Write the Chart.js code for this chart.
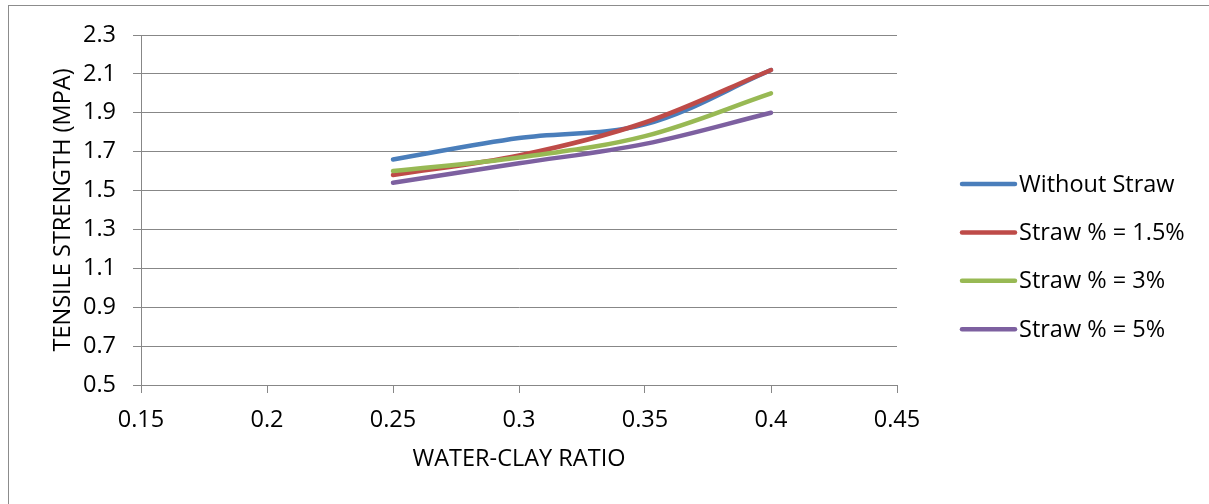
<!DOCTYPE html>
<html>
<head>
<meta charset="utf-8">
<script src="https://cdn.jsdelivr.net/npm/chart.js@4/dist/chart.umd.min.js"></script>
<style>
  body { margin: 0; background: #fff; }
  #wrap { position: relative; width: 1209px; height: 504px; overflow: hidden; }
  #frame { position: absolute; left: 8px; top: 5px; width: 1300px; height: 600px; border: 1px solid #8c8c8c; box-sizing: border-box; }
  canvas { position: absolute; left: 0; top: 0; }
</style>
</head>
<body>
<div id="wrap">
  <div id="frame"></div>
  <canvas id="chart" width="1209" height="504"></canvas>
</div>
<script>
// data
const ratios = [0.25, 0.3, 0.35, 0.4];
const withoutStraw = [1.66, 1.77, 1.84, 2.12];
const straw15 = [1.58, 1.68, 1.85, 2.12];
const straw3 = [1.60, 1.67, 1.78, 2.00];
const straw5 = [1.54, 1.64, 1.74, 1.90];

const seriesNames = ['Without Straw', 'Straw % = 1.5%', 'Straw % = 3%', 'Straw % = 5%'];
const seriesColors = ['#4a7ebb', '#be4b48', '#98b954', '#7d60a0'];

const xTicks = [0.15, 0.2, 0.25, 0.3, 0.35, 0.4, 0.45];
const yTicks = [0.5, 0.7, 0.9, 1.1, 1.3, 1.5, 1.7, 1.9, 2.1, 2.3];

const FONT = { family: '"Open Sans", sans-serif', size: 23.5 };
const GRID = '#878787';

function toPoints(values) {
  return values.map((v, i) => ({ x: ratios[i], y: v }));
}

// legend drawn to the right of the plot, Excel style
const sideLegend = {
  id: 'sideLegend',
  afterDraw(chart) {
    const ctx = chart.ctx;
    ctx.save();
    ctx.font = '23.5px "Open Sans", sans-serif';
    ctx.textBaseline = 'middle';
    chart.data.datasets.forEach((ds, i) => {
      const y = 184 + i * 48.4;
      ctx.strokeStyle = ds.borderColor;
      ctx.lineWidth = 4.5;
      ctx.lineCap = 'round';
      ctx.beginPath();
      ctx.moveTo(962, y);
      ctx.lineTo(1015, y);
      ctx.stroke();
      ctx.fillStyle = '#000';
      ctx.fillText(ds.label, 1019, y + 1);
    });
    ctx.restore();
  }
};

const allSeries = [withoutStraw, straw15, straw3, straw5];

new Chart(document.getElementById('chart').getContext('2d'), {
  type: 'line',
  data: {
    datasets: allSeries.map((s, i) => ({
      label: seriesNames[i],
      data: toPoints(s),
      borderColor: seriesColors[i],
      backgroundColor: seriesColors[i],
      borderWidth: 4.5,
      borderCapStyle: 'round',
      pointRadius: 0,
      tension: 0.35,
      order: allSeries.length - i
    }))
  },
  options: {
    responsive: false,
    animation: false,
    layout: { padding: { left: 0, right: 312, top: 35, bottom: 0 } },
    plugins: {
      legend: { display: false },
      tooltip: { enabled: false }
    },
    scales: {
      x: {
        type: 'linear',
        min: 0.15,
        max: 0.45,
        afterBuildTicks: s => { s.ticks = xTicks.map(v => ({ value: v })); },
        afterFit: s => { s.height = 119; },
        ticks: {
          color: '#000',
          font: FONT,
          padding: 13,
          maxRotation: 0,
          callback: v => String(v)
        },
        grid: { drawOnChartArea: false, drawTicks: true, tickLength: 8, color: GRID },
        border: { display: true, color: GRID, width: 1 },
        title: {
          display: true,
          text: 'WATER-CLAY RATIO',
          color: '#000',
          font: FONT,
          padding: { top: 0, bottom: 31 }
        }
      },
      y: {
        type: 'linear',
        min: 0.5,
        max: 2.3,
        afterBuildTicks: s => { s.ticks = yTicks.map(v => ({ value: v })); },
        afterFit: s => { s.width = 141; },
        ticks: {
          color: '#000',
          font: FONT,
          padding: 17,
          callback: v => String(v)
        },
        grid: { drawOnChartArea: true, drawTicks: true, tickLength: 8, color: GRID },
        border: { display: true, color: GRID, width: 1 },
        title: {
          display: true,
          text: 'TENSILE STRENGTH (MPA)',
          color: '#000',
          font: FONT,
          padding: { top: 49, bottom: 0 }
        }
      }
    }
  },
  plugins: [sideLegend]
});
</script>
</body>
</html>
